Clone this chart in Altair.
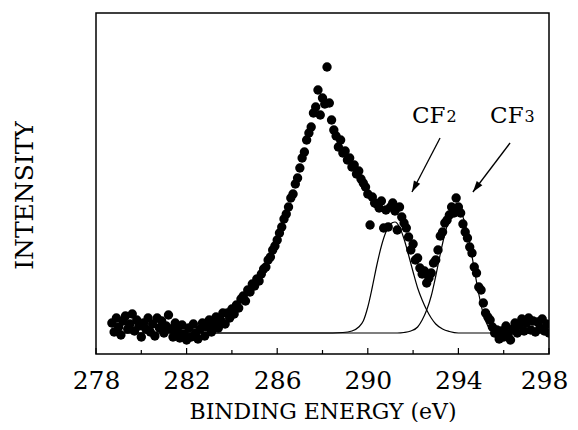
import math
import altair as alt
import pandas as pd

# ---------------- data ----------------
energy = [
    278.7, 278.8, 278.9, 279.0, 279.1, 279.2, 279.3, 279.4, 279.5, 279.6,
    279.7, 279.8, 279.9, 280.0, 280.1, 280.2, 280.3, 280.4, 280.5, 280.6,
    280.7, 280.8, 280.9, 281.0, 281.1, 281.2, 281.3, 281.4, 281.5, 281.6,
    281.7, 281.8, 281.9, 282.0, 282.1, 282.2, 282.3, 282.4, 282.5, 282.6,
    282.7, 282.8, 282.9, 283.0, 283.1, 283.2, 283.3, 283.4, 283.5, 283.6,
    283.7, 283.8, 283.9, 284.0, 284.1, 284.2, 284.3, 284.4, 284.5, 284.6,
    284.7, 284.8, 284.9, 285.0, 285.1, 285.2, 285.3, 285.4, 285.5, 285.6,
    285.7, 285.8, 285.9, 286.0, 286.1, 286.2, 286.3, 286.4, 286.5, 286.6,
    286.7, 286.8, 286.9, 287.0, 287.1, 287.2, 287.3, 287.4, 287.5, 287.6,
    287.7, 287.8, 287.9, 288.0, 288.1, 288.2, 288.3, 288.4, 288.5, 288.6,
    288.7, 288.8, 288.9, 289.0, 289.1, 289.2, 289.3, 289.4, 289.5, 289.6,
    289.7, 289.8, 289.9, 290.0, 290.1, 290.2, 290.3, 290.4, 290.5, 290.6,
    290.7, 290.8, 290.9, 291.0, 291.1, 291.2, 291.3, 291.4, 291.5, 291.6,
    291.7, 291.8, 291.9, 292.0, 292.1, 292.2, 292.3, 292.4, 292.5, 292.6,
    292.7, 292.8, 292.9, 293.0, 293.1, 293.2, 293.3, 293.4, 293.5, 293.6,
    293.7, 293.8, 293.9, 294.0, 294.1, 294.2, 294.3, 294.4, 294.5, 294.6,
    294.7, 294.8, 294.9, 295.0, 295.1, 295.2, 295.3, 295.4, 295.5, 295.6,
    295.7, 295.8, 295.9, 296.0, 296.1, 296.2, 296.3, 296.4, 296.5, 296.6,
    296.7, 296.8, 296.9, 297.0, 297.1, 297.2, 297.3, 297.4, 297.5, 297.6,
    297.7, 297.8, 297.9, 298.0,
]
intensity = [
    31, 22, 36, 27, 19, 33, 38, 25, 30, 40,
    23, 34, 28, 17, 31, 25, 36, 22, 30, 18,
    36, 26, 33, 21, 28, 39, 25, 17, 31, 23,
    16, 29, 20, 14, 26, 17, 30, 21, 15, 25,
    31, 18, 27, 34, 22, 30, 37, 26, 34, 41,
    30, 41, 36, 45, 40, 49, 46, 55, 58, 53,
    64, 62, 70, 68, 75, 73, 80, 85, 87, 94,
    97, 104, 108, 114, 121, 127, 135, 140, 147, 156,
    160, 170, 176, 186, 196, 202, 214, 221, 227, 241,
    247, 264, 239, 256, 250, 287, 251, 234, 224, 218,
    207, 214, 201, 203, 194, 196, 187, 189, 180, 183,
    175, 171, 167, 160, 129, 157, 151, 150, 146, 153,
    126, 144, 127, 147, 151, 143, 124, 147, 137, 131,
    126, 117, 104, 110, 94, 96, 86, 80, 83, 71,
    76, 81, 91, 94, 104, 118, 122, 131, 134, 139,
    147, 141, 156, 147, 141, 130, 122, 116, 107, 101,
    87, 81, 67, 64, 51, 41, 37, 34, 27, 21,
    24, 15, 23, 17, 28, 20, 14, 25, 31, 21,
    29, 35, 23, 31, 36, 24, 33, 22, 32, 26,
    35, 23, 30, 21,
]

cf2_energy = [278.7, 288.0, 288.9, 289.3, 289.6, 289.8, 290.0, 290.2, 290.4, 290.6,
              290.8, 291.0, 291.2, 291.4, 291.6, 291.8, 292.0, 292.2, 292.4, 292.6,
              292.8, 293.0, 293.3, 293.6, 294.0, 298.0]
cf2_fit = [21, 21, 21.5, 23, 27, 33, 47, 67, 89, 108,
           122, 130, 132, 127, 115, 99, 82, 66, 54, 44,
           36, 30, 25, 22.5, 21, 21]

cf3_energy = [278.7, 291.3, 291.6, 291.9, 292.2, 292.4, 292.6, 292.8, 293.0, 293.2,
              293.4, 293.6, 293.8, 293.95, 294.1, 294.3, 294.5, 294.7, 294.9, 295.1,
              295.3, 295.5, 295.8, 296.2, 298.0]
cf3_fit = [21, 21, 21.5, 23, 27, 34, 44, 58, 78, 100,
           120, 135, 143, 145, 142, 130, 110, 85, 60, 40,
           28, 23, 21.2, 21, 21]

tick_values = [278, 280, 282, 284, 286, 288, 290, 292, 294, 296, 298]
label_values = [278, 282, 286, 290, 294, 298]

peak_names = ["CF", "CF"]
peak_subs = ["2", "3"]

# ---------------- layout / style ----------------
W, H = 453, 341
X_DOMAIN = [278, 298]
Y_DOMAIN = [0, 341]
FONT = "DejaVu Serif"

xs = alt.Scale(domain=X_DOMAIN, nice=False, zero=False)
ys = alt.Scale(domain=Y_DOMAIN, nice=False, zero=False)

# annotation anchors (data units)
name_x = [291.95, 295.40]
name_y = [231, 231]
sub_x = [293.47, 296.92]
sub_y = [232, 232]
arrow_x = [293.19, 296.28]
arrow_y = [216, 211]
arrow_x2 = [291.95, 294.64]
arrow_y2 = [162, 162]

px_per_x = W / (X_DOMAIN[1] - X_DOMAIN[0])
px_per_y = H / (Y_DOMAIN[1] - Y_DOMAIN[0])
angles = []
for x0, y0, x1, y1 in zip(arrow_x, arrow_y, arrow_x2, arrow_y2):
    dx = (x1 - x0) * px_per_x
    dy = -(y1 - y0) * px_per_y
    angles.append(math.degrees(math.atan2(dx, -dy)) % 360)

pts = pd.DataFrame({"e": energy, "i": intensity})
fits = pd.DataFrame({
    "e": cf2_energy + cf3_energy,
    "i": cf2_fit + cf3_fit,
    "peak": ["CF2"] * len(cf2_energy) + ["CF3"] * len(cf3_energy),
})
ann = pd.DataFrame({
    "nx": name_x, "ny": name_y, "name": peak_names,
    "sx": sub_x, "sy": sub_y, "sub": peak_subs,
    "ax": arrow_x, "ay": arrow_y, "ax2": arrow_x2, "ay2": arrow_y2,
    "ang": angles,
})
ticks_major = pd.DataFrame({"t": label_values})
ticks_minor = pd.DataFrame({"t": [t for t in tick_values if t not in label_values]})

x_axis = alt.Axis(
    values=label_values, format="d", labelFont=FONT, labelFontSize=25,
    labelColor="black", labelPadding=34, labelBaseline="alphabetic",
    labelFlush=False, labelOverlap=False, ticks=False, tickSize=0,
    labelOffset={"condition": {"test": "datum.value == 298", "value": -5}, "value": 0},
    domain=False, grid=False,
    title="BINDING ENERGY (eV)", titleFont=FONT, titleFontSize=22,
    titleFontWeight="normal", titleColor="black", titleX=W / 2, titleY=64,
    titleAlign="center", titleBaseline="alphabetic",
)
y_axis = alt.Axis(
    labels=False, ticks=False, domain=False, grid=False,
    title="INTENSITY", titleFont=FONT, titleFontSize=25,
    titleFontWeight="normal", titleColor="black", titleAngle=270,
    titleX=-64, titleY=182, titleAlign="center", titleBaseline="alphabetic",
)

base_x = alt.X("e:Q", scale=xs, axis=x_axis)
base_y = alt.Y("i:Q", scale=ys, axis=y_axis)

fit_lines = alt.Chart(fits).mark_line(
    color="black", strokeWidth=1.2, interpolate="monotone", clip=True
).encode(x=base_x, y=base_y, detail="peak:N")

dots = alt.Chart(pts).mark_circle(
    size=88, color="black", opacity=1, clip=True
).encode(x=alt.X("e:Q", scale=xs), y=alt.Y("i:Q", scale=ys))

major = alt.Chart(ticks_major).mark_rule(color="black", strokeWidth=1.2).encode(
    x=alt.X("t:Q", scale=xs), y=alt.value(H), y2=alt.value(H - 6)
)
minor = alt.Chart(ticks_minor).mark_rule(color="black", strokeWidth=1.2).encode(
    x=alt.X("t:Q", scale=xs), y=alt.value(H), y2=alt.value(H - 4)
)

arrows = alt.Chart(ann).mark_rule(color="black", strokeWidth=1.3).encode(
    x=alt.X("ax:Q", scale=xs), y=alt.Y("ay:Q", scale=ys),
    x2="ax2:Q", y2="ay2:Q",
)
heads = alt.Chart(ann).mark_point(
    shape="M0,0L-0.32,1L0.32,1Z", filled=True, color="black", opacity=1, size=484
).encode(
    x=alt.X("ax2:Q", scale=xs), y=alt.Y("ay2:Q", scale=ys),
    angle=alt.Angle("ang:Q", scale=None),
)
names = alt.Chart(ann).mark_text(
    font=FONT, fontSize=23, color="black", align="left", baseline="alphabetic"
).encode(x=alt.X("nx:Q", scale=xs), y=alt.Y("ny:Q", scale=ys), text="name:N")
subs = alt.Chart(ann).mark_text(
    font=FONT, fontSize=16, color="black", align="left", baseline="alphabetic"
).encode(x=alt.X("sx:Q", scale=xs), y=alt.Y("sy:Q", scale=ys), text="sub:N")

chart = alt.layer(
    fit_lines, dots, major, minor, arrows, heads, names, subs
).properties(
    width=W, height=H,
    autosize=alt.AutoSizeParams(type="none"),
    padding={"left": 88, "top": 5, "right": 21, "bottom": 68},
    background="white",
).configure_view(
    stroke="black", strokeWidth=1.5
)

chart.save("out.html", embed_options={"renderer": "svg", "actions": False})
